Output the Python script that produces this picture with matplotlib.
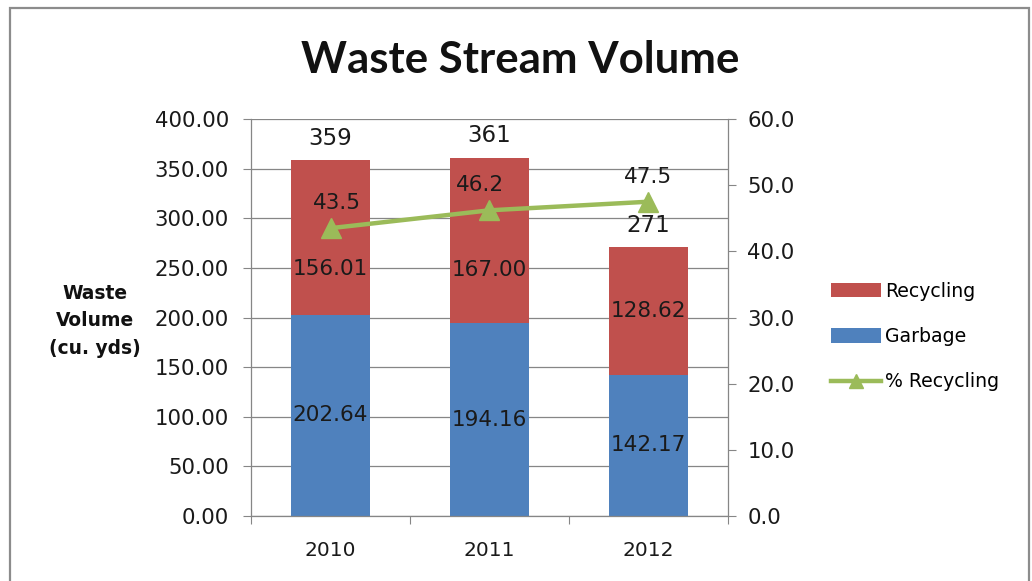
import matplotlib
matplotlib.use("Agg")
import matplotlib.pyplot as plt
from matplotlib.patches import Rectangle
from matplotlib.lines import Line2D
from matplotlib.patches import Patch
import numpy as np

years = ["2010", "2011", "2012"]
garbage = [202.64, 194.16, 142.17]
recycling = [156.01, 167.00, 128.62]
totals = [359, 361, 271]
pct_recycling = [43.5, 46.2, 47.5]
left_ticks = [0, 50, 100, 150, 200, 250, 300, 350, 400]
right_ticks = [0, 10, 20, 30, 40, 50, 60]

RED = "#C0504D"
BLUE = "#4F81BD"
GREEN = "#9BBB59"
GRID = "#868686"
TXT = "#1a1a1a"

plt.rcParams['font.family'] = ['DejaVu Sans']

fig = plt.figure(figsize=(10.32, 5.81), dpi=100)
fig.patches.append(Rectangle((10/1032, -0.05), 1019/1032, 1.05 - 8/581,
                             transform=fig.transFigure, fill=False,
                             edgecolor="#8C8C8C", linewidth=1.6, zorder=0))

ax = fig.add_axes([251/1032, 1-516/581, (728-251)/1032, (516-119)/581])
x = np.arange(len(years))
bw = 0.5
ax.bar(x, garbage, bw, color=BLUE, label="Garbage", zorder=2)
ax.bar(x, recycling, bw, bottom=garbage, color=RED, label="Recycling", zorder=2)
ax.set_xlim(-0.5, 2.5)
ax.set_ylim(0, 400)
ax.set_yticks(left_ticks)
ax.set_yticklabels([f"{v:.2f}" for v in left_ticks])
ax.grid(axis='y', color=GRID, linewidth=0.9, zorder=0)
ax.set_axisbelow(True)
for s in ['top', 'right']:
    ax.spines[s].set_visible(False)
for s in ['left', 'bottom']:
    ax.spines[s].set_color(GRID)
    ax.spines[s].set_linewidth(0.9)
ax.set_xticks([-0.5, 0.5, 1.5, 2.5], minor=False)
ax.set_xticklabels([])
ax.set_xticks(x, minor=True)
ax.set_xticklabels(years, minor=True)
ax.tick_params(axis='x', which='major', length=6, color=GRID, direction='out')
ax.tick_params(axis='x', which='minor', length=0, labelsize=14.5, pad=18, labelcolor=TXT)
ax.tick_params(axis='y', length=6, color=GRID, labelsize=15.3, pad=10, labelcolor=TXT)

ax.text(95/1032, 1-321/581, "Waste\nVolume\n(cu. yds)", transform=fig.transFigure,
        ha='center', va='center', fontsize=13.4, fontweight='bold', linespacing=1.55,
        color="#111111")

# segment labels
rec_offsets = [-32, -30, 0]
for i in range(len(years)):
    ax.annotate(f"{garbage[i]:.2f}", (x[i], garbage[i]/2), xytext=(0, 0),
                textcoords='offset pixels', ha='center', va='center', fontsize=15.5,
                color=TXT, zorder=5)
    ax.annotate(f"{recycling[i]:.2f}", (x[i], garbage[i] + recycling[i]/2),
                xytext=(0, rec_offsets[i]), textcoords='offset pixels',
                ha='center', va='center', fontsize=15.5, color=TXT, zorder=5)
    ax.annotate(f"{totals[i]}", (x[i], garbage[i] + recycling[i]), xytext=(0, 22),
                textcoords='offset pixels', ha='center', va='center', fontsize=16.5,
                color=TXT, zorder=5)

ax2 = ax.twinx()
ax2.set_ylim(0, 60)
ax2.set_yticks(right_ticks)
ax2.set_yticklabels([f"{v:.1f}" for v in right_ticks])
ax2.plot(x, pct_recycling, color=GREEN, linewidth=3.2, marker='^', markersize=15,
         zorder=4)
for s in ['top', 'left', 'bottom']:
    ax2.spines[s].set_visible(False)
ax2.spines['right'].set_color(GRID)
ax2.spines['right'].set_linewidth(0.9)
ax2.tick_params(axis='y', length=6, color=GRID, labelsize=15.3, pad=8, labelcolor=TXT)
pct_dx = [6, -9, 0]
for i in range(len(years)):
    ax2.annotate(f"{pct_recycling[i]:.1f}", (x[i], pct_recycling[i]),
                 xytext=(pct_dx[i], 25), textcoords='offset pixels',
                 ha='center', va='center', fontsize=15.5, color=TXT, zorder=5)

fig.text(520/1032, 1-60/581, "Waste Stream Volume", ha='center', va='center',
         fontsize=31.5, fontweight='bold', color="#111111", family=['Lato', 'DejaVu Sans'])

handles = [Patch(facecolor=RED, label="Recycling"),
           Patch(facecolor=BLUE, label="Garbage"),
           Line2D([0], [0], color=GREEN, linewidth=3.2, marker='^', markersize=10,
                  label="% Recycling")]
fig.legend(handles=handles, loc='center left', bbox_to_anchor=(823/1032, 1-336.5/581),
           frameon=False, fontsize=13.6, handlelength=2.65, handleheight=0.8,
           handletextpad=0.25, labelspacing=1.4, borderaxespad=0)

fig.savefig("out.png", dpi=100)
